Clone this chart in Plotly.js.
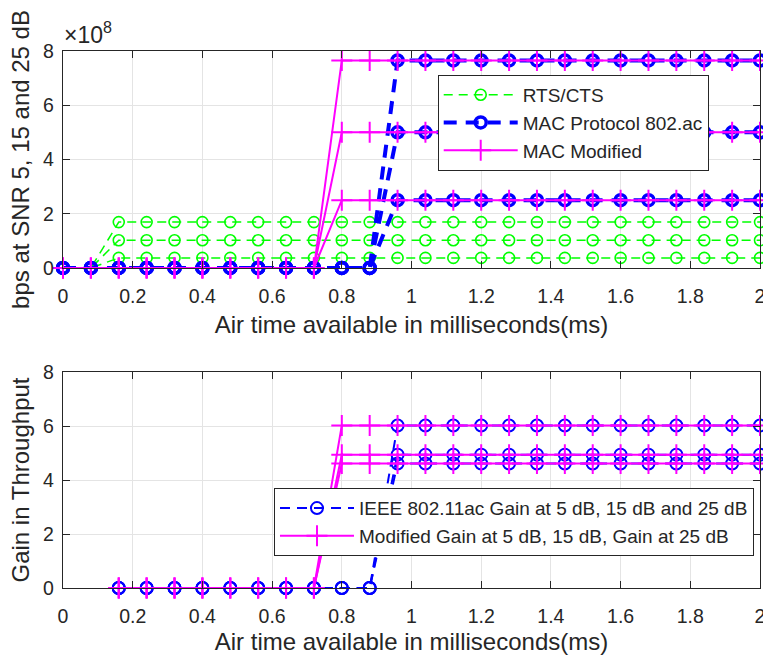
<!DOCTYPE html>
<html>
<head>
<meta charset="utf-8">
<script src="https://cdn.plot.ly/plotly-3.0.1.min.js"></script>
<style>html,body{margin:0;padding:0;background:#fff;}#chart{width:763px;height:655px;}</style>
</head>
<body>
<div id="chart"></div>
<script>
// ---------- data (top panel: throughput in bps) ----------
const xTop = [0,0.08,0.16,0.24,0.32,0.40,0.48,0.56,0.64,0.72,0.80,0.88,0.96,1.04,1.12,1.20,1.28,1.36,1.44,1.52,1.60,1.68,1.76,1.84,1.92,2.00];

const rts5  = [0,0,3.7e7,3.7e7,3.7e7,3.7e7,3.7e7,3.7e7,3.7e7,3.7e7,3.7e7,3.7e7,3.7e7,3.7e7,3.7e7,3.7e7,3.7e7,3.7e7,3.7e7,3.7e7,3.7e7,3.7e7,3.7e7,3.7e7,3.7e7,3.7e7];
const rts15 = [0,0,1.02e8,1.02e8,1.02e8,1.02e8,1.02e8,1.02e8,1.02e8,1.02e8,1.02e8,1.02e8,1.02e8,1.02e8,1.02e8,1.02e8,1.02e8,1.02e8,1.02e8,1.02e8,1.02e8,1.02e8,1.02e8,1.02e8,1.02e8,1.02e8];
const rts25 = [0,0,1.69e8,1.69e8,1.69e8,1.69e8,1.69e8,1.69e8,1.69e8,1.69e8,1.69e8,1.69e8,1.69e8,1.69e8,1.69e8,1.69e8,1.69e8,1.69e8,1.69e8,1.69e8,1.69e8,1.69e8,1.69e8,1.69e8,1.69e8,1.69e8];

const mac5  = [0,0,0,0,0,0,0,0,0,0,0,0,2.5e8,2.5e8,2.5e8,2.5e8,2.5e8,2.5e8,2.5e8,2.5e8,2.5e8,2.5e8,2.5e8,2.5e8,2.5e8,2.5e8];
const mac15 = [0,0,0,0,0,0,0,0,0,0,0,0,5.0e8,5.0e8,5.0e8,5.0e8,5.0e8,5.0e8,5.0e8,5.0e8,5.0e8,5.0e8,5.0e8,5.0e8,5.0e8,5.0e8];
const mac25 = [0,0,0,0,0,0,0,0,0,0,0,0,7.65e8,7.65e8,7.65e8,7.65e8,7.65e8,7.65e8,7.65e8,7.65e8,7.65e8,7.65e8,7.65e8,7.65e8,7.65e8,7.65e8];

const mod5  = [0,0,0,0,0,0,0,0,0,0,2.5e8,2.5e8,2.5e8,2.5e8,2.5e8,2.5e8,2.5e8,2.5e8,2.5e8,2.5e8,2.5e8,2.5e8,2.5e8,2.5e8,2.5e8,2.5e8];
const mod15 = [0,0,0,0,0,0,0,0,0,0,5.0e8,5.0e8,5.0e8,5.0e8,5.0e8,5.0e8,5.0e8,5.0e8,5.0e8,5.0e8,5.0e8,5.0e8,5.0e8,5.0e8,5.0e8,5.0e8];
const mod25 = [0,0,0,0,0,0,0,0,0,0,7.65e8,7.65e8,7.65e8,7.65e8,7.65e8,7.65e8,7.65e8,7.65e8,7.65e8,7.65e8,7.65e8,7.65e8,7.65e8,7.65e8,7.65e8,7.65e8];

// ---------- data (bottom panel: gain in throughput) ----------
const xBot = [0.16,0.24,0.32,0.40,0.48,0.56,0.64,0.72,0.80,0.88,0.96,1.04,1.12,1.20,1.28,1.36,1.44,1.52,1.60,1.68,1.76,1.84,1.92,2.00];

const ieeeGain5  = [0,0,0,0,0,0,0,0,0,0,4.61,4.61,4.61,4.61,4.61,4.61,4.61,4.61,4.61,4.61,4.61,4.61,4.61,4.61];
const ieeeGain15 = [0,0,0,0,0,0,0,0,0,0,4.94,4.94,4.94,4.94,4.94,4.94,4.94,4.94,4.94,4.94,4.94,4.94,4.94,4.94];
const ieeeGain25 = [0,0,0,0,0,0,0,0,0,0,6.02,6.02,6.02,6.02,6.02,6.02,6.02,6.02,6.02,6.02,6.02,6.02,6.02,6.02];

const modGain5  = [0,0,0,0,0,0,0,0,4.61,4.61,4.61,4.61,4.61,4.61,4.61,4.61,4.61,4.61,4.61,4.61,4.61,4.61,4.61,4.61];
const modGain15 = [0,0,0,0,0,0,0,0,4.94,4.94,4.94,4.94,4.94,4.94,4.94,4.94,4.94,4.94,4.94,4.94,4.94,4.94,4.94,4.94];
const modGain25 = [0,0,0,0,0,0,0,0,6.02,6.02,6.02,6.02,6.02,6.02,6.02,6.02,6.02,6.02,6.02,6.02,6.02,6.02,6.02,6.02];

// ---------- labels ----------
const topNames = ['RTS/CTS', 'MAC Protocol 802.ac', 'MAC Modified'];
const botNames = ['IEEE 802.11ac Gain at 5 dB, 15 dB and 25 dB', 'Modified Gain at 5 dB, 15 dB, Gain at 25 dB'];
const xTickVals = [0,0.2,0.4,0.6,0.8,1,1.2,1.4,1.6,1.8,2];
const xTickText = ['0','0.2','0.4','0.6','0.8','1','1.2','1.4','1.6','1.8','2'];
const yTopTickVals = [0,2e8,4e8,6e8,8e8];
const yTopTickText = ['0','2','4','6','8'];
const yBotTickVals = [0,2,4,6,8];
const yBotTickText = ['0','2','4','6','8'];

// ---------- styles ----------
const FONT = 'Liberation Sans, Arial, Helvetica, sans-serif';
const GREEN = '#00ff00', BLUE = '#0000ff', MAG = '#ff00ff';

const rtsStyle = {
  mode: 'lines+markers',
  line: {color: GREEN, width: 1.5, dash: '9px,6px'},
  marker: {symbol: 'circle-open', size: 11, color: GREEN, line: {color: GREEN, width: 1.6}}
};
const macStyle = {
  mode: 'lines+markers',
  line: {color: BLUE, width: 4, dash: '13px,9px'},
  marker: {symbol: 'circle-open', size: 11, color: BLUE, line: {color: BLUE, width: 3.5}}
};
const modStyle = {
  mode: 'lines+markers',
  line: {color: MAG, width: 2},
  marker: {symbol: 'cross-thin-open', size: 15, color: MAG, line: {color: MAG, width: 2}}
};
const ieeeStyle = {
  mode: 'lines+markers',
  line: {color: BLUE, width: 2, dash: '10px,7px'},
  marker: {symbol: 'circle-open', size: 12, color: BLUE, line: {color: BLUE, width: 2}}
};

function mk(x, y, style, name, show, xa, ya, leg) {
  return Object.assign({}, style, {
    x: x, y: y, name: name, legendgroup: name, showlegend: show,
    xaxis: xa, yaxis: ya, legend: leg, cliponaxis: false, hoverinfo: 'skip'
  });
}

const traces = [
  mk(xTop, rts5,  rtsStyle, topNames[0], true,  'x', 'y', 'legend'),
  mk(xTop, rts15, rtsStyle, topNames[0], false, 'x', 'y', 'legend'),
  mk(xTop, rts25, rtsStyle, topNames[0], false, 'x', 'y', 'legend'),
  mk(xTop, mac5,  macStyle, topNames[1], true,  'x', 'y', 'legend'),
  mk(xTop, mac15, macStyle, topNames[1], false, 'x', 'y', 'legend'),
  mk(xTop, mac25, macStyle, topNames[1], false, 'x', 'y', 'legend'),
  mk(xTop, mod5,  modStyle, topNames[2], true,  'x', 'y', 'legend'),
  mk(xTop, mod15, modStyle, topNames[2], false, 'x', 'y', 'legend'),
  mk(xTop, mod25, modStyle, topNames[2], false, 'x', 'y', 'legend'),
  mk(xBot, ieeeGain5,  ieeeStyle, botNames[0], true,  'x2', 'y2', 'legend2'),
  mk(xBot, ieeeGain15, ieeeStyle, botNames[0], false, 'x2', 'y2', 'legend2'),
  mk(xBot, ieeeGain25, ieeeStyle, botNames[0], false, 'x2', 'y2', 'legend2'),
  mk(xBot, modGain5,  modStyle, botNames[1], true,  'x2', 'y2', 'legend2'),
  mk(xBot, modGain15, modStyle, botNames[1], false, 'x2', 'y2', 'legend2'),
  mk(xBot, modGain25, modStyle, botNames[1], false, 'x2', 'y2', 'legend2')
];

const axisCommon = {
  showline: true, linecolor: '#262626', linewidth: 1.2, mirror: 'allticks',
  ticks: 'inside', ticklen: 7, tickcolor: '#262626', tickwidth: 1,
  showgrid: true, gridcolor: '#e4e4e4', gridwidth: 1, zeroline: false,
  tickfont: {family: FONT, size: 19.5, color: '#262626'},
  ticklabeloverflow: 'allow',
  automargin: false, fixedrange: true
};
const xAxisBase = Object.assign({}, axisCommon, {
  range: [0, 2], tickmode: 'array', tickvals: xTickVals, ticktext: xTickText,
  ticklabelstandoff: 10
});

const layout = {
  width: 763, height: 655,
  paper_bgcolor: '#ffffff', plot_bgcolor: '#ffffff',
  margin: {l: 63, r: 3, t: 51, b: 67},
  font: {family: FONT, color: '#262626'},
  showlegend: true,
  xaxis: Object.assign({}, xAxisBase, {anchor: 'y', domain: [0, 1],
    title: {text: 'Air time available in milliseconds(ms)', font: {family: FONT, size: 24, color: '#262626'}, standoff: 10}}),
  yaxis: Object.assign({}, axisCommon, {anchor: 'x', domain: [0.596, 1], range: [0, 8e8],
    tickmode: 'array', tickvals: yTopTickVals, ticktext: yTopTickText, ticklabelstandoff: 4,
    title: {text: 'bps at SNR 5, 15 and 25 dB', font: {family: FONT, size: 24, color: '#262626'}, standoff: 6}}),
  xaxis2: Object.assign({}, xAxisBase, {anchor: 'y2', domain: [0, 1],
    title: {text: 'Air time available in milliseconds(ms)', font: {family: FONT, size: 24, color: '#262626'}, standoff: 14}}),
  yaxis2: Object.assign({}, axisCommon, {anchor: 'x2', domain: [0, 0.4022], range: [0, 8],
    tickmode: 'array', tickvals: yBotTickVals, ticktext: yBotTickText, ticklabelstandoff: 4,
    title: {text: 'Gain in Throughput', font: {family: FONT, size: 24, color: '#262626'}, standoff: 6}}),
  legend: {
    x: 0.5376, y: 0.9555, xanchor: 'left', yanchor: 'top',
    bgcolor: '#ffffff', bordercolor: '#262626', borderwidth: 1,
    font: {family: FONT, size: 19, color: '#262626'}, itemwidth: 74, tracegroupgap: 0
  },
  legend2: {
    x: 0.3027, y: 0.1858, xanchor: 'left', yanchor: 'top',
    bgcolor: '#ffffff', bordercolor: '#262626', borderwidth: 1,
    font: {family: FONT, size: 19, color: '#262626'}, itemwidth: 74, tracegroupgap: 0
  },
  annotations: [{
    xref: 'paper', yref: 'paper', x: -0.001, y: 1.002, xanchor: 'left', yanchor: 'bottom',
    text: '\u00d710<sup>8</sup>', showarrow: false,
    font: {family: FONT, size: 23, color: '#262626'}
  }]
};

Plotly.newPlot('chart', traces, layout, {displayModeBar: false, staticPlot: true});
</script>
</body>
</html>
